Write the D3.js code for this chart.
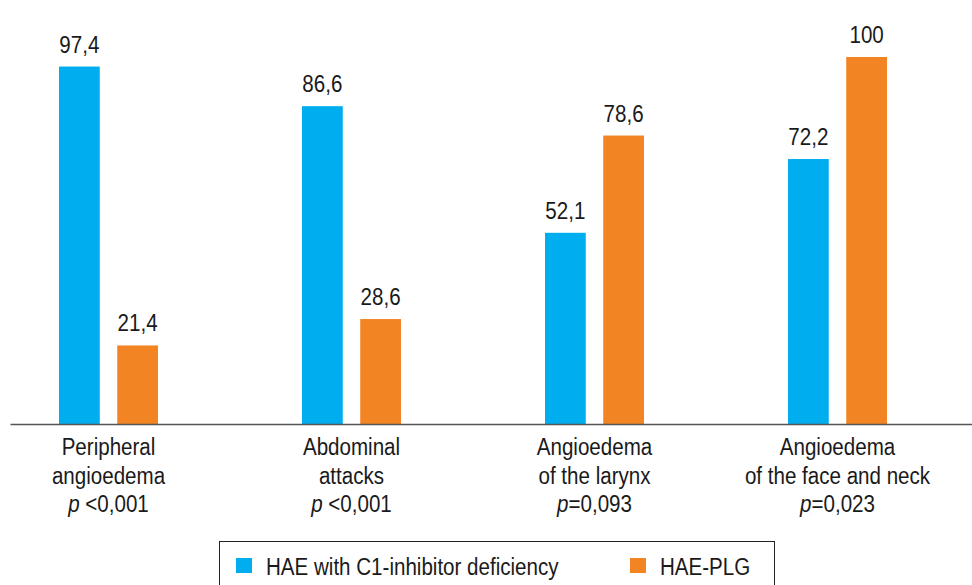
<!DOCTYPE html>
<html>
<head>
<meta charset="utf-8">
<script src="https://cdn.jsdelivr.net/npm/d3@7"></script>
<style>
  html, body { margin: 0; padding: 0; background: #fff; }
  svg { display: block; }
  text { font-family: "Liberation Sans", Arial, sans-serif; fill: #1a1a1a; }
</style>
</head>
<body>
<svg id="chart" width="972" height="585"></svg>
<script>
// Symptom categories (name lines plus p-value)
const categories = ["peripheral", "abdominal", "larynx", "face"];
const categoryLines = [
  ["Peripheral", "angioedema", ["p", " <0,001"]],
  ["Abdominal", "attacks", ["p", " <0,001"]],
  ["Angioedema", "of the larynx", ["p", "=0,093"]],
  ["Angioedema", "of the face and neck", ["p", "=0,023"]]
];
const seriesNames = ["HAE with C1-inhibitor deficiency", "HAE-PLG"];
const c1InhValues = [97.4, 86.6, 52.1, 72.2];
const plgValues = [21.4, 28.6, 78.6, 100];
const seriesColors = ["#00aeef", "#f38423"];

const svg = d3.select("#chart");
const baseY = 424;
const FS = 23.5;      // font size
const SX = 0.875;     // horizontal condensing of the typeface

const x0 = d3.scaleBand().domain(categories).range([-13, 959]).padding(0);
const x1 = d3.scaleBand().domain([0, 1]).range([-49.5, 49.5]).paddingInner(0.3);
const y = d3.scaleLinear().domain([0, 100]).range([baseY, 57]);

const fmt = v => String(v).replace(".", ",");

// Condensed text: a group placed at the anchor, squeezed horizontally
function label(parent, x, yy, anchor) {
  return parent.append("g")
    .attr("transform", `translate(${x},${yy}) scale(${SX},1)`)
    .append("text")
    .attr("text-anchor", anchor)
    .attr("font-size", FS);
}

const seriesValues = [c1InhValues, plgValues];

const groups = svg.selectAll("g.group")
  .data(categories)
  .join("g")
  .attr("class", "group")
  .attr("transform", d => `translate(${x0(d) + x0.bandwidth() / 2},0)`);

groups.each(function (cat, i) {
  const g = d3.select(this);
  const vals = seriesValues.map(s => s[i]);
  g.selectAll("rect")
    .data(vals)
    .join("rect")
    .attr("x", (d, j) => x1(j))
    .attr("width", x1.bandwidth())
    .attr("y", d => y(d))
    .attr("height", d => baseY - y(d))
    .attr("fill", (d, j) => seriesColors[j]);
  vals.forEach((v, j) => {
    label(g, x1(j) + x1.bandwidth() / 2, y(v) - 14, "middle").text(fmt(v));
  });

  const lines = categoryLines[i];
  label(g, 0, 455, "middle").text(lines[0]);
  label(g, 0, 483.5, "middle").text(lines[1]);
  const p = label(g, 0, 512, "middle");
  p.append("tspan").attr("font-style", "italic").text(lines[2][0]);
  p.append("tspan").text(lines[2][1]);
});

// Baseline axis
const xAxis = d3.axisBottom(d3.scaleLinear().range([10, 972])).ticks(0).tickSize(0).tickFormat("");
svg.append("g")
  .attr("transform", `translate(0,${baseY})`)
  .call(xAxis)
  .call(g => g.select(".domain").attr("stroke", "#555").attr("stroke-width", 1.5));

// Legend
const legend = svg.append("g");
legend.append("rect")
  .attr("x", 219.5).attr("y", 541.5)
  .attr("width", 555).attr("height", 60)
  .attr("fill", "none").attr("stroke", "#222").attr("stroke-width", 1);
const legendX = [236, 630];
seriesNames.forEach((name, j) => {
  legend.append("rect")
    .attr("x", legendX[j]).attr("y", 558)
    .attr("width", 16).attr("height", 15)
    .attr("fill", seriesColors[j]);
  label(legend, legendX[j] + 30, 575, "start").text(name);
});
</script>
</body>
</html>
